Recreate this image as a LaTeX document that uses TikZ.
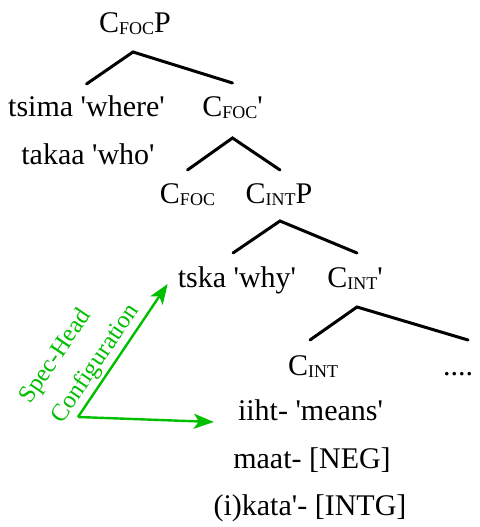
\documentclass[tikz,border=0pt]{standalone}
\usepackage{fontspec}
\setmainfont{Liberation Serif}
\usetikzlibrary{calc,arrows.meta}
\definecolor{cfggreen}{RGB}{0,190,0}
\newcommand{\lsub}[1]{\raisebox{-1.5pt}{\fontsize{18}{18}\selectfont #1}}
\newcommand{\q}{\textquotesingle}
\tikzset{
  lbl/.style={font=\fontsize{30}{30}\selectfont, inner sep=0pt, anchor=base},
  branch/.style={line width=3pt, line cap=round},
  cfg/.style={draw=cfggreen, line width=2.4pt, -{Stealth[length=20pt,width=15pt,inset=5pt]}},
  cfgtext/.style={text=cfggreen, font=\fontsize{24.5}{24.5}\selectfont, inner sep=0pt, rotate=56}
}
\begin{document}
\begin{tikzpicture}[x=1pt,y=1pt]
\useasboundingbox (0,0) rectangle (479,527);

% tree labels
\node[lbl] (cfocp)   at (135,494)   {C\lsub{FOC}P};
\node[lbl] (tsima)   at (86.5,410)  {tsima \q where\q};
\node[lbl] (cfocbar) at (232.5,410) {C\lsub{FOC}\q};
\node[lbl] (takaa)   at (88,362)    {takaa \q who\q};
\node[lbl] (cfoc)    at (187.5,323) {C\lsub{FOC}};
\node[lbl] (cintp)   at (279,323)   {C\lsub{INT}P};
\node[lbl] (tska)    at (237,239)   {tska \q why\q};
\node[lbl] (cintbar) at (355,239)   {C\lsub{INT}\q};
\node[lbl] (cint)    at (313,151)   {C\lsub{INT}};
\node[lbl] (dots)    at (458,151)   {....};
\node[lbl] (iiht)    at (310.5,106) {iiht- \q means\q};
\node[lbl] (maat)    at (312,58)    {maat- [NEG]};
\node[lbl] (ikata)   at (310,11)    {(i)kata\q- [INTG]};

% branches
\draw[branch] ($(tsima.base)+(0,33)$) -- ($(cfocp.base)+(-2,-19)$) -- ($(cfocbar.base)+(0,34)$);
\draw[branch] ($(cfoc.base)+(0,34)$) -- ($(cfocbar.base)+(0,-21)$) -- ($(cintp.base)+(1,34)$);
\draw[branch] ($(tska.base)+(-4,35)$) -- ($(cintp.base)+(1,-17)$) -- ($(cintbar.base)+(2,35)$);
\draw[branch] ($(cint.base)+(-3,36)$) -- ($(cintbar.base)+(2,-19)$) -- ($(dots.base)+(10,36)$);

% spec-head arrows
\coordinate (sh) at (78,110);
\draw[cfg] (sh) -- ($(tska.base west)+(-10,4)$);
\draw[cfg] (sh) -- ($(iiht.base west)+(-24,-1)$);
\node[cfgtext] (spechead) at (56,170) {Spec-Head};
\node[cfgtext] (config)   at (96,163) {Configuration};
\end{tikzpicture}
\end{document}
